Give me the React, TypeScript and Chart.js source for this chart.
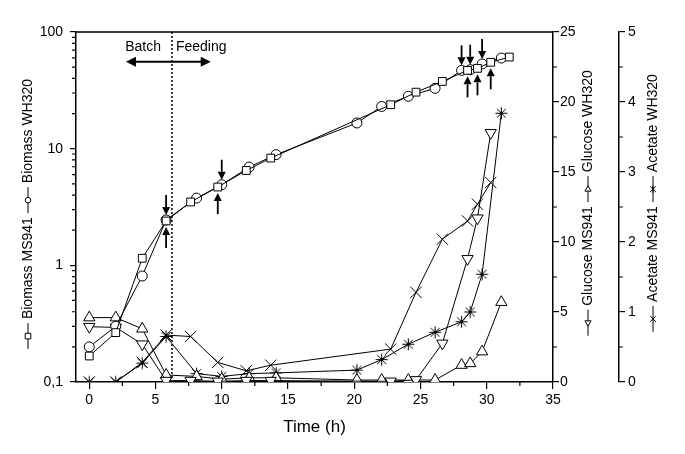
import React, { useEffect, useRef } from 'react';
import { Chart, registerables } from 'chart.js';

Chart.register(...registerables);

// ---- Axis ticks ----
const X_TICKS = [0, 5, 10, 15, 20, 25, 30, 35];
const BIOMASS_TICKS = [0.1, 1, 10, 100];
const BIOMASS_TICK_LABELS = ['0,1', '1', '10', '100'];
const GLUCOSE_TICKS = [0, 5, 10, 15, 20, 25];
const ACETATE_TICKS = [0, 1, 2, 3, 4, 5];

// ---- Sampling times (h) ----
const TIME_MS941 = [0, 2, 4, 5.8, 7.65, 9.7, 11.85, 13.7, 22.75, 24.66, 26.65, 28.55, 29.3, 30.3, 31.7];
const TIME_WH320 = [0, 2, 4, 5.8, 8.1, 10.0, 12.07, 14.1, 20.2, 22.07, 24.08, 26.1, 28.1, 28.75, 29.65, 31.1];

// ---- Series ----
const BIOMASS_MS941 = [0.167, 0.265, 1.15, 2.4, 3.49, 4.69, 6.5, 8.3, 23.8, 30.5, 37.7, 46.9, 48.8, 55, 61];
const BIOMASS_WH320 = [0.2, 0.3, 0.81, 2.45, 3.77, 4.91, 6.96, 8.89, 16.6, 23.0, 28.1, 32.9, 46.9, 47.5, 53.2, 59.8];
const GLUCOSE_MS941 = [3.95, 3.9, 2.7, 0.1, 0.1, 0.05, 0.1, 0.1, 0.05, 0.15, 2.76, 8.8, 11.7, 17.8];
const GLUCOSE_WH320 = [4.6, 4.6, 3.8, 0.5, 0.4, 0.2, 0.3, 0.3, 0.14, 0.14, 0.14, 0.14, 1.21, 1.33, 2.17, 5.7];
const ACETATE_MS941 = [0, 0, 0.28, 0.67, 0.65, 0.28, 0.16, 0.24, 0.47, 1.28, 2.04, 2.3, 2.54, 2.85];
const ACETATE_WH320 = [0, 0, 0.27, 0.65, 0.12, 0.08, 0.12, 0.13, 0.17, 0.32, 0.54, 0.71, 0.86, 1.0, 1.54, 3.84];

// ---- Annotations ----
const PHASE_SPLIT_T = 6.24;
const BATCH_LABEL = 'Batch';
const FEEDING_LABEL = 'Feeding';
const DOWN_ARROW_IDX_WH320 = [3, 5, 12, 13, 14];
const UP_ARROW_IDX_MS941 = [3, 5, 11, 12, 13];

const X_TITLE = 'Time (h)';
const FONT = "'Liberation Sans', Arial, sans-serif";

const pts = (xs: number[], ys: number[]) => ys.map((v, i) => ({ x: xs[i], y: v }));

type Item = { sym?: string; text?: string };

function drawMarker(ctx: CanvasRenderingContext2D, style: string, x: number, y: number, s: number) {
  ctx.beginPath();
  if (style === 'rect') ctx.rect(x - s, y - s, 2 * s, 2 * s);
  else if (style === 'circle') ctx.arc(x, y, s, 0, Math.PI * 2);
  else if (style === 'triUp') {
    ctx.moveTo(x, y - s * 1.2); ctx.lineTo(x + s * 1.1, y + s * 0.7); ctx.lineTo(x - s * 1.1, y + s * 0.7); ctx.closePath();
  } else if (style === 'triDown') {
    ctx.moveTo(x, y + s * 1.2); ctx.lineTo(x + s * 1.1, y - s * 0.7); ctx.lineTo(x - s * 1.1, y - s * 0.7); ctx.closePath();
  } else if (style === 'cross') {
    ctx.moveTo(x - s, y - s); ctx.lineTo(x + s, y + s); ctx.moveTo(x + s, y - s); ctx.lineTo(x - s, y + s);
  } else if (style === 'star') {
    ctx.moveTo(x - s, y - s); ctx.lineTo(x + s, y + s); ctx.moveTo(x + s, y - s); ctx.lineTo(x - s, y + s);
    ctx.moveTo(x, y - s * 1.3); ctx.lineTo(x, y + s * 1.3);
  }
  if (style !== 'cross' && style !== 'star') { ctx.fillStyle = '#fff'; ctx.fill(); }
  ctx.stroke();
}

function drawVerticalTitle(ctx: CanvasRenderingContext2D, cx: number, cy: number, items: Item[]) {
  ctx.font = `14px ${FONT}`;
  const symW = 26, gap = 4;
  const widths = items.map((it) => (it.sym ? symW : ctx.measureText(it.text as string).width));
  const total = widths.reduce((a, b) => a + b, 0) + gap * (items.length - 1);
  let u = -total / 2;
  items.forEach((it, i) => {
    const w = widths[i];
    if (it.sym) {
      ctx.save();
      ctx.strokeStyle = '#000';
      ctx.lineWidth = 1;
      ctx.beginPath();
      ctx.moveTo(cx, cy - u); ctx.lineTo(cx, cy - u - w);
      ctx.stroke();
      drawMarker(ctx, it.sym, cx, cy - u - w / 2, 2.8);
      ctx.restore();
    } else {
      ctx.save();
      ctx.translate(cx, cy);
      ctx.rotate(-Math.PI / 2);
      ctx.fillStyle = '#000';
      ctx.textAlign = 'left';
      ctx.textBaseline = 'middle';
      ctx.fillText(it.text as string, u, 0);
      ctx.restore();
    }
    u += w + gap;
  });
}

function arrow(ctx: CanvasRenderingContext2D, x: number, yTail: number, yTip: number) {
  const dir = yTip > yTail ? 1 : -1;
  const head = 8;
  ctx.beginPath();
  ctx.moveTo(x, yTail);
  ctx.lineTo(x, yTip - dir * head);
  ctx.stroke();
  ctx.beginPath();
  ctx.moveTo(x, yTip);
  ctx.lineTo(x - 4, yTip - dir * head);
  ctx.lineTo(x + 4, yTip - dir * head);
  ctx.closePath();
  ctx.fill();
}

const annotPlugin = {
  id: 'annot',
  afterDraw(chart: any) {
    const { ctx, chartArea: ca, scales } = chart;
    const xs = scales.x, yB = scales.y, yG = scales.yG, yA = scales.yA;
    ctx.save();
    ctx.strokeStyle = '#000';
    ctx.fillStyle = '#000';
    // top spine
    ctx.lineWidth = 1.5;
    ctx.beginPath();
    ctx.moveTo(ca.left, ca.top); ctx.lineTo(ca.right, ca.top);
    ctx.stroke();
    // minor ticks
    ctx.lineWidth = 1.2;
    ctx.beginPath();
    for (let t = 2.5; t < 35; t += 5) {
      const p = xs.getPixelForValue(t);
      ctx.moveTo(p, ca.bottom); ctx.lineTo(p, ca.bottom + 4);
    }
    [0.1, 1, 10].forEach((d) => {
      for (let k = 2; k <= 9; k++) {
        const p = yB.getPixelForValue(k * d);
        ctx.moveTo(ca.left, p); ctx.lineTo(ca.left - 4, p);
      }
    });
    for (let g = 2.5; g < 25; g += 5) {
      const p = yG.getPixelForValue(g);
      ctx.moveTo(yG.left, p); ctx.lineTo(yG.left + 4, p);
    }
    for (let a = 0.5; a < 5; a += 1) {
      const p = yA.getPixelForValue(a);
      ctx.moveTo(yA.left, p); ctx.lineTo(yA.left + 4, p);
    }
    ctx.stroke();

    // phase split dotted line
    const sx = xs.getPixelForValue(PHASE_SPLIT_T);
    ctx.lineWidth = 1.5;
    ctx.setLineDash([2, 2]);
    ctx.beginPath();
    ctx.moveTo(sx, ca.top); ctx.lineTo(sx, ca.bottom);
    ctx.stroke();
    ctx.setLineDash([]);

    // Batch / Feeding labels + double arrow
    ctx.font = `14px ${FONT}`;
    ctx.textBaseline = 'middle';
    const ly = yB.getPixelForValue(74);
    ctx.textAlign = 'right';
    ctx.fillText(BATCH_LABEL, sx - 11, ly);
    ctx.textAlign = 'left';
    ctx.fillText(FEEDING_LABEL, sx + 4, ly);
    const ay = yB.getPixelForValue(55.6);
    const ax0 = xs.getPixelForValue(2.77), ax1 = xs.getPixelForValue(9.17);
    ctx.lineWidth = 2;
    ctx.beginPath();
    ctx.moveTo(ax0 + 8, ay); ctx.lineTo(ax1 - 8, ay);
    ctx.stroke();
    ctx.beginPath();
    ctx.moveTo(ax0, ay); ctx.lineTo(ax0 + 10, ay - 5); ctx.lineTo(ax0 + 10, ay + 5); ctx.closePath();
    ctx.moveTo(ax1, ay); ctx.lineTo(ax1 - 10, ay - 5); ctx.lineTo(ax1 - 10, ay + 5); ctx.closePath();
    ctx.fill();

    // sampling arrows
    ctx.lineWidth = 1.8;
    DOWN_ARROW_IDX_WH320.forEach((i) => {
      const px = xs.getPixelForValue(TIME_WH320[i]);
      const py = yB.getPixelForValue(BIOMASS_WH320[i]);
      arrow(ctx, px, py - 25, py - 5);
    });
    UP_ARROW_IDX_MS941.forEach((i) => {
      const px = xs.getPixelForValue(TIME_MS941[i]);
      const py = yB.getPixelForValue(BIOMASS_MS941[i]);
      arrow(ctx, px, py + 27, py + 6);
    });

    // axis titles
    ctx.font = `17px ${FONT}`;
    ctx.textAlign = 'center';
    ctx.textBaseline = 'middle';
    ctx.fillText(X_TITLE, (ca.left + ca.right) / 2, 427);
    drawVerticalTitle(ctx, 28, 214, [
      { sym: 'rect' }, { text: 'Biomass MS941' }, { sym: 'circle' }, { text: 'Biomass WH320' },
    ]);
    drawVerticalTitle(ctx, yG.left + 35, 203, [
      { sym: 'triDown' }, { text: 'Glucose MS941' }, { sym: 'triUp' }, { text: 'Glucose WH320' },
    ]);
    drawVerticalTitle(ctx, yA.left + 34, 203, [
      { sym: 'cross' }, { text: 'Acetate MS941' }, { sym: 'star' }, { text: 'Acetate WH320' },
    ]);
    ctx.restore();
  },
};

function makeStar(): HTMLCanvasElement {
  const c = document.createElement('canvas');
  c.width = 15; c.height = 15;
  const g = c.getContext('2d') as CanvasRenderingContext2D;
  g.strokeStyle = '#000';
  g.lineWidth = 1;
  const m = 7.5, r = 6, d = 4.4;
  g.beginPath();
  g.moveTo(m - r, m); g.lineTo(m + r, m);
  g.moveTo(m, m - r); g.lineTo(m, m + r);
  g.moveTo(m - d, m - d); g.lineTo(m + d, m + d);
  g.moveTo(m + d, m - d); g.lineTo(m - d, m + d);
  g.stroke();
  g.fillStyle = '#000';
  g.beginPath();
  g.arc(m, m, 1.6, 0, Math.PI * 2);
  g.fill();
  return c;
}

export default function App() {
  const ref = useRef<HTMLCanvasElement>(null);
  useEffect(() => {
    if (!ref.current) return;
    const star = makeStar();
    const base = {
      showLine: true,
      borderColor: '#000',
      borderWidth: 1,
      pointBorderColor: '#000',
      pointBackgroundColor: '#fff',
      pointBorderWidth: 1,
      tension: 0,
    };
    const tickFont = { family: FONT, size: 14 };
    const grid = { display: true, drawOnChartArea: false, drawTicks: true, tickLength: 6, color: '#000', lineWidth: 1.2 };
    const border = { display: true, color: '#000', width: 1.5 };
    const chart = new Chart(ref.current, {
      type: 'scatter',
      data: {
        datasets: [
          { ...base, label: 'Biomass MS941', data: pts(TIME_MS941, BIOMASS_MS941), yAxisID: 'y', pointStyle: 'rect', pointRadius: 5.5 },
          { ...base, label: 'Biomass WH320', data: pts(TIME_WH320, BIOMASS_WH320), yAxisID: 'y', pointStyle: 'circle', pointRadius: 5 },
          { ...base, label: 'Glucose MS941', data: pts(TIME_MS941, GLUCOSE_MS941), yAxisID: 'yG', pointStyle: 'triangle', pointRotation: 180, pointRadius: 6.5 },
          { ...base, label: 'Glucose WH320', data: pts(TIME_WH320, GLUCOSE_WH320), yAxisID: 'yG', pointStyle: 'triangle', pointRadius: 6.5 },
          { ...base, label: 'Acetate MS941', data: pts(TIME_MS941, ACETATE_MS941), yAxisID: 'yA', pointStyle: 'crossRot', pointRadius: 8 },
          { ...base, label: 'Acetate WH320', data: pts(TIME_WH320, ACETATE_WH320), yAxisID: 'yA', pointStyle: star as any, pointRadius: 7 },
        ],
      },
      options: {
        responsive: false,
        animation: false,
        layout: { padding: { top: 32, left: 0, right: 0, bottom: 0 } },
        plugins: { legend: { display: false }, tooltip: { enabled: false } },
        scales: {
          x: {
            type: 'linear', position: 'bottom', min: -1, max: 35,
            afterBuildTicks: (s: any) => { s.ticks = X_TICKS.map((v) => ({ value: v })); },
            afterFit: (s: any) => { s.height = 72; },
            ticks: { font: tickFont, color: '#000', padding: 3, callback: (v: any) => String(v) },
            grid: { ...grid, tickLength: 7 }, border,
          },
          y: {
            type: 'logarithmic', position: 'left', min: 0.1, max: 100,
            afterBuildTicks: (s: any) => { s.ticks = BIOMASS_TICKS.map((v) => ({ value: v })); },
            afterFit: (s: any) => { s.width = 76; },
            ticks: { font: tickFont, color: '#000', padding: 7, callback: (v: any) => BIOMASS_TICK_LABELS[BIOMASS_TICKS.indexOf(v)] ?? '' },
            grid, border,
          },
          yG: {
            type: 'linear', position: 'right', min: 0, max: 25, weight: 0,
            afterBuildTicks: (s: any) => { s.ticks = GLUCOSE_TICKS.map((v) => ({ value: v })); },
            afterFit: (s: any) => { s.width = 66; },
            ticks: { font: tickFont, color: '#000', padding: 1, callback: (v: any) => String(v) },
            grid, border,
          },
          yA: {
            type: 'linear', position: 'right', min: 0, max: 5, weight: 1,
            afterBuildTicks: (s: any) => { s.ticks = ACETATE_TICKS.map((v) => ({ value: v })); },
            afterFit: (s: any) => { s.width = 66; },
            ticks: { font: tickFont, color: '#000', padding: 3, callback: (v: any) => String(v) },
            grid, border,
          },
        },
      },
      plugins: [annotPlugin],
    } as any);
    return () => chart.destroy();
  }, []);
  return (
    <canvas
      ref={ref}
      width={685}
      height={454}
      style={{ position: 'absolute', left: 0, top: 0, display: 'block', background: '#fff' }}
    />
  );
}
